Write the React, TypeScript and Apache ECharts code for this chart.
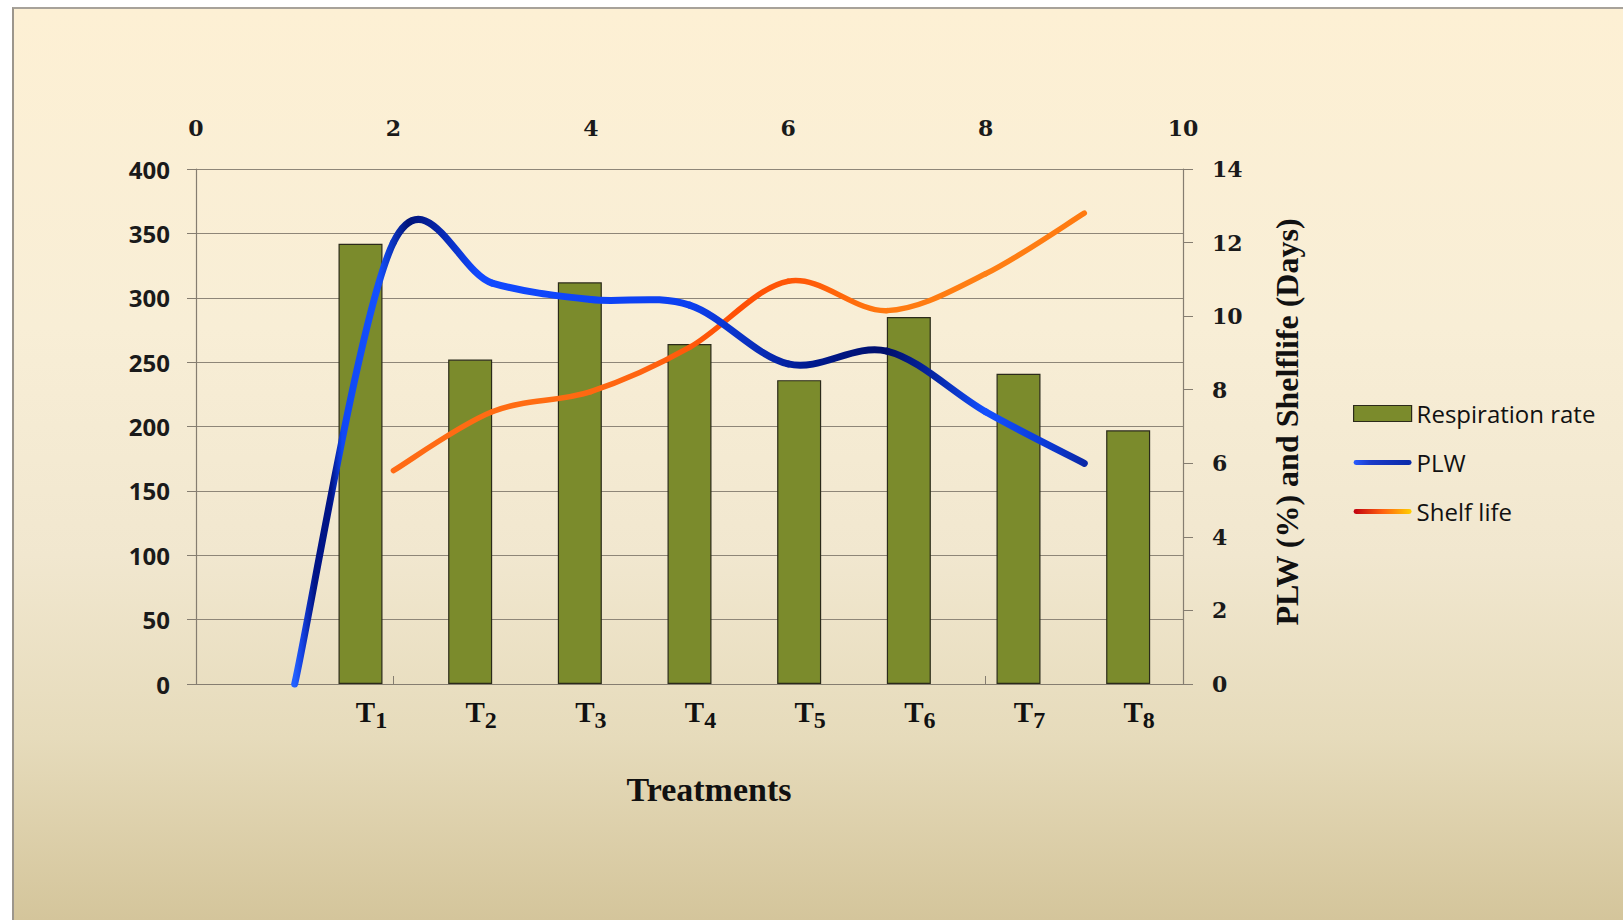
import React, { useEffect, useRef } from "react";
import * as echarts from "echarts";

// ---- data ----
const categories = ["", "T1", "T2", "T3", "T4", "T5", "T6", "T7", "T8"];
const respirationRate: (number | null)[] = [null, 342, 252, 312, 264, 236, 285, 241, 197];
const plwX = [1, 2, 3, 4, 5, 6, 7, 8, 9];
const plwY = [0, 12.0, 10.9, 10.45, 10.3, 8.7, 9.05, 7.4, 6.0];
const shelfX = [2, 3, 4, 5, 6, 7, 8, 9];
const shelfY = [5.8, 7.4, 7.95, 9.15, 10.95, 10.15, 11.15, 12.8];

const SERIF = "'Liberation Serif', 'Times New Roman', serif";
const SANS = "'Open Sans', sans-serif";
const DSERIF = "'DejaVu Serif', serif";

const plwStops = [
  [0.1, "#2160ff"], [0.108, "#1440e0"], [0.12, "#001487"], [0.137, "#001487"], [0.148, "#0f47f5"],
  [0.185, "#1450ff"], [0.215, "#001479"], [0.245, "#0624a8"], [0.285, "#1149ff"],
  [0.5, "#0c40f0"], [0.56, "#0a30c0"], [0.62, "#001a90"], [0.7, "#000f6c"],
  [0.75, "#0627a8"], [0.8, "#1450ff"], [0.86, "#0b3ad8"], [0.9, "#0a28a8"],
].map(([offset, color]) => ({ offset: offset as number, color: color as string }));

const shelfStops = [
  [0.2, "#ff6a14"], [0.35, "#ff6c12"], [0.45, "#ff6410"], [0.55, "#ff4e04"],
  [0.62, "#ff5a08"], [0.7, "#ff7a10"], [0.8, "#ff7f14"], [0.9, "#ff7a10"],
].map(([offset, color]) => ({ offset: offset as number, color: color as string }));

// Excel-like smooth curve: one bezier segment per data point, via the axes' own coords
function makeRender(xs: number[], ys: number[], stops: any[], width: number) {
  return (params: any, api: any) => {
    const i = params.dataIndex;
    const n = xs.length;
    if (i >= n - 1) return { type: "group", children: [] };
    const c = (k: number) => {
      const kk = Math.max(0, Math.min(n - 1, k));
      return api.coord([xs[kk], ys[kk]]);
    };
    const p0 = c(i - 1), p1 = c(i), p2 = c(i + 1), p3 = c(i + 2);
    const t = 1 / 6;
    const x0 = api.coord([0, 0])[0];
    const x1 = api.coord([10, 0])[0];
    return {
      type: "bezierCurve",
      shape: {
        x1: p1[0], y1: p1[1], x2: p2[0], y2: p2[1],
        cpx1: p1[0] + (p2[0] - p0[0]) * t, cpy1: p1[1] + (p2[1] - p0[1]) * t,
        cpx2: p2[0] - (p3[0] - p1[0]) * t, cpy2: p2[1] - (p3[1] - p1[1]) * t,
      },
      style: {
        fill: null,
        stroke: new echarts.graphic.LinearGradient(x0, 0, x1, 0, stops, true),
        lineWidth: width,
        lineCap: "round",
      },
    };
  };
}

const linePath = "path://M2.5,0H57.5A2.5,2.5,0,0,1,57.5,5H2.5A2.5,2.5,0,0,1,2.5,0Z";
const axisGray = "#857d70";

const option: any = {
  animation: false,
  backgroundColor: "transparent",
  textStyle: { fontFamily: SANS },
  grid: { left: 196, right: 440, top: 169, bottom: 236, containLabel: false },
  legend: {
    orient: "vertical",
    left: 1348,
    top: 395,
    itemWidth: 58,
    itemHeight: 16,
    itemGap: 22,
    selectedMode: false,
    textStyle: { fontFamily: SANS, fontSize: 24, color: "#111", lineHeight: 27 },
    data: [
      { name: "Respiration rate", icon: "rect", itemStyle: { color: "#7b8b2c", borderColor: "#2b2a1a", borderWidth: 1.2 } },
      {
        name: "PLW", icon: linePath,
        itemStyle: { color: new echarts.graphic.LinearGradient(0, 0, 1, 0, [
          { offset: 0, color: "#2a5cff" }, { offset: 0.3, color: "#1a3ac8" }, { offset: 1, color: "#0a2aa8" }]) },
      },
      {
        name: "Shelf life", icon: linePath,
        itemStyle: { color: new echarts.graphic.LinearGradient(0, 0, 1, 0, [
          { offset: 0, color: "#c00010" }, { offset: 0.5, color: "#ff6010" }, { offset: 1, color: "#ffd000" }]) },
      },
    ],
  },
  xAxis: [
    {
      type: "category",
      position: "bottom",
      data: categories,
      axisLine: { show: true, lineStyle: { color: axisGray, width: 1.2 } },
      axisTick: { show: false },
      axisLabel: {
        interval: 0,
        margin: 13,
        padding: [0, 0, 0, 22],
        formatter: (v: string) => (v ? `{t|T}{s|${v.slice(1)}}` : ""),
        rich: {
          t: { fontFamily: SERIF, fontWeight: "bold", fontSize: 29, color: "#111", padding: [0, 0, 6, 0], verticalAlign: "bottom" },
          s: { fontFamily: SERIF, fontWeight: "bold", fontSize: 24, color: "#111", verticalAlign: "bottom" },
        },
      },
      splitLine: { show: false },
    },
    {
      type: "value",
      position: "top",
      min: 0,
      max: 10,
      interval: 2,
      axisLine: { show: true, lineStyle: { color: axisGray, width: 1.2 } },
      axisTick: { show: true, inside: false, length: 8, lineStyle: { color: axisGray } },
      axisLabel: { margin: 30, fontFamily: DSERIF, fontWeight: "bold", fontSize: 22, color: "#1a1a1a" },
      splitLine: { show: false },
    },
  ],
  yAxis: [
    {
      type: "value",
      position: "left",
      min: 0,
      max: 400,
      interval: 50,
      axisLine: { show: true, lineStyle: { color: axisGray, width: 1.2 } },
      axisTick: { show: true, length: 9, lineStyle: { color: axisGray } },
      axisLabel: { margin: 26, fontFamily: SANS, fontWeight: "bold", fontSize: 24, color: "#1a1a1a" },
      splitLine: { show: true, lineStyle: { color: "#8e8678", width: 1.2 } },
    },
    {
      type: "value",
      position: "right",
      min: 0,
      max: 14,
      interval: 2,
      axisLine: { show: true, lineStyle: { color: axisGray, width: 1.2 } },
      axisTick: { show: true, length: 10, lineStyle: { color: axisGray } },
      axisLabel: { margin: 29, fontFamily: DSERIF, fontWeight: "bold", fontSize: 22, color: "#1a1a1a" },
      splitLine: { show: false },
    },
  ],
  series: [
    {
      name: "Respiration rate",
      type: "bar",
      xAxisIndex: 0,
      yAxisIndex: 0,
      data: respirationRate,
      barWidth: 44,
      itemStyle: { color: "#7b8b2c", borderColor: "#2b2a1a", borderWidth: 1.2 },
    },
    {
      name: "PLW",
      type: "custom",
      xAxisIndex: 1,
      yAxisIndex: 1,
      itemStyle: { color: "#1a3ac8" },
      encode: { x: 0, y: 1 },
      data: plwX.map((x, i) => [x, plwY[i]]),
      renderItem: makeRender(plwX, plwY, plwStops, 7),
      z: 5,
    },
    {
      name: "Shelf life",
      type: "custom",
      xAxisIndex: 1,
      yAxisIndex: 1,
      itemStyle: { color: "#ff6a14" },
      encode: { x: 0, y: 1 },
      data: shelfX.map((x, i) => [x, shelfY[i]]),
      renderItem: makeRender(shelfX, shelfY, shelfStops, 5.5),
      z: 4,
    },
  ],
  graphic: [
    {
      type: "text",
      x: 709,
      y: 789,
      style: { text: "Treatments", fontFamily: SERIF, fontWeight: "bold", fontSize: 34, fill: "#111", textAlign: "center", textVerticalAlign: "middle" },
    },
    {
      type: "text",
      x: 1287,
      y: 422,
      rotation: Math.PI / 2,
      style: { text: "PLW (%) and Shelflife (Days)", fontFamily: SERIF, fontWeight: "bold", fontSize: 32, fill: "#111", textAlign: "center", textVerticalAlign: "middle" },
    },
  ],
};

export default function App() {
  const ref = useRef<HTMLDivElement>(null);
  useEffect(() => {
    const chart = echarts.init(ref.current!, null, { renderer: "svg" });
    chart.setOption(option);
    return () => chart.dispose();
  }, []);
  return (
    <div style={{ position: "fixed", left: 0, top: 0, width: 1623, height: 920, background: "#fff", overflow: "hidden" }}>
      <div
        style={{
          position: "absolute", left: 12, top: 7, right: 0, bottom: 0,
          background: "linear-gradient(to bottom, #fdf0d4 0%, #f8eed6 35%, #f1e7cf 60%, #e6dbbb 80%, #d4c59b 100%)",
          borderLeft: "2px solid #9c968c", borderTop: "2px solid #a7a29a",
        }}
      />
      <div ref={ref} style={{ position: "absolute", left: 0, top: 0, width: 1623, height: 920 }} />
    </div>
  );
}
